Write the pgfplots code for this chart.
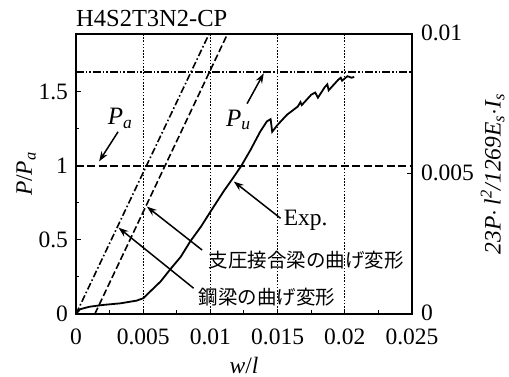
\documentclass[border=0pt]{standalone}
\usepackage{pgfplots}
\pgfplotsset{compat=1.18}
\usepackage{fontspec}
\setmainfont{Liberation Serif}
\newfontfamily\jp{Noto Sans CJK JP}
\usetikzlibrary{arrows.meta}
\newcommand\fs{\fontsize{23.5}{26}\selectfont}
\begin{document}
\fs
\begin{tikzpicture}
\pgfplotsset{
  base/.style={scale only axis, width=336pt, height=280pt,
    xmin=0, xmax=0.025,
    scaled x ticks=false, scaled y ticks=false,
    tick align=inside,
    major tick length=5pt, minor tick length=3.5pt,
    axis line style={line width=1.6pt},
    every tick/.style={line width=1pt, black},
    /pgf/number format/assume math mode=true,
    tick label style={font=\fs},
    label style={font=\fs},
  }
}
\begin{axis}[base, name=ax,
  ymin=0, ymax=1.89,
  xtick pos=bottom, ytick pos=left,
  xtick={0,0.005,0.01,0.015,0.02,0.025},
  xticklabels={0,0.005,0.01,0.015,0.02,0.025},
  minor x tick num=1,
  ytick={0,0.5,1,1.5},
  yticklabels={0,0.5,1,1.5},
  minor y tick num=1,
  xticklabel style={yshift=-7pt},
  xmajorgrids,
  major grid style={line width=1pt, dash pattern=on 1.6pt off 1.6pt, black},
  xlabel={\textit{w}/\textit{l}},
  ylabel={\textit{P}/\textit{P}\textsubscript{\textit{a}}},
  xlabel style={inner sep=0pt, yshift=-4pt},
  ylabel style={yshift=-13pt},
]
% reference lines
\addplot[black, line width=1.7pt, dash pattern=on 8pt off 3.5pt] coordinates {(0,1) (0.025,1)};
\addplot[black, line width=1.5pt, dash pattern=on 8pt off 2pt on 1.5pt off 2pt on 1.5pt off 2pt] coordinates {(0,1.635) (0.025,1.635)};
% steel beam bending
\addplot[black, line width=1.6pt, dash pattern=on 7pt off 2.5pt on 1.6pt off 2.5pt] coordinates {(0,0) (0.0099,1.89)};
% bearing joint beam bending
\addplot[black, line width=1.6pt, dash pattern=on 7pt off 3pt] coordinates {(0.0014,0) (0.01127,1.89)};
% experiment
\addplot[black, line width=1.8pt] coordinates {
(0,0) (0.0003,0.032) (0.001,0.049) (0.002,0.061) (0.0033,0.072) (0.0045,0.09)
(0.005,0.106) (0.0055,0.15) (0.0063,0.22) (0.007,0.30) (0.0078,0.387)
(0.0085,0.49) (0.0093,0.59) (0.010,0.69) (0.011,0.83) (0.0117,0.92)
(0.0123,1.0) (0.013,1.11) (0.0137,1.23) (0.0142,1.30) (0.01448,1.315)
(0.0146,1.23) (0.0150,1.277) (0.0157,1.345) (0.0165,1.40) (0.0167,1.43)
(0.0168,1.41) (0.0175,1.48) (0.0178,1.495) (0.0180,1.46) (0.0185,1.53)
(0.0187,1.55) (0.0188,1.51) (0.0195,1.58) (0.0197,1.595) (0.0198,1.575)
(0.0202,1.605) (0.0205,1.595) (0.0207,1.6)};
% annotations
\node[anchor=center, font=\fontsize{25}{28}\selectfont] at (axis cs:0.00328,1.32) {\textit{P}\textsubscript{\textit{a}}};
\draw[line width=1.5pt, -{Stealth[length=10pt,width=7pt]}] (axis cs:0.00313,1.23) -- (axis cs:0.00172,1.03);
\node[anchor=center, font=\fontsize{25}{28}\selectfont] at (axis cs:0.01209,1.31) {\textit{P}\textsubscript{\textit{u}}};
\draw[line width=1.5pt, -{Stealth[length=10pt,width=7pt]}] (axis cs:0.01273,1.42) -- (axis cs:0.01397,1.625);
\node[anchor=west, inner sep=0pt] at (axis cs:0.01545,0.63) {Exp.};
\draw[line width=1.5pt, -{Stealth[length=10pt,width=7pt]}] (axis cs:0.01522,0.646) -- (axis cs:0.01174,0.894);
\node[anchor=west, inner sep=0pt, font=\jp\fontsize{19.5}{22}\selectfont] at (axis cs:0.00985,0.365) {支圧接合梁の曲げ変形};
\draw[line width=1.5pt, -{Stealth[length=10pt,width=7pt]}] (axis cs:0.00938,0.432) -- (axis cs:0.00527,0.725);
\node[anchor=west, inner sep=0pt, font=\jp\fontsize{19.5}{22}\selectfont] at (axis cs:0.0091,0.115) {鋼梁の曲げ変形};
\draw[line width=1.5pt, -{Stealth[length=10pt,width=7pt]}] (axis cs:0.00875,0.174) -- (axis cs:0.00316,0.583);
\end{axis}
\begin{axis}[base,
  ymin=0, ymax=0.01,
  axis x line=none, axis y line*=right,
  ytick={0,0.005,0.01},
  yticklabels={0,0.005,0.01},
  yticklabel style={xshift=1pt, yshift=1pt},
  ylabel={\itshape 23P$\cdot$\,l\textsuperscript{2}/1269E\textsubscript{s}$\cdot$I\textsubscript{s}},
  ylabel style={yshift=9pt},
]
\addplot[draw=none] coordinates {(0,0) (0.025,0.01)};
\end{axis}
\node[anchor=base west, inner sep=0pt, font=\fontsize{24.5}{27}\selectfont] at ([yshift=7pt]ax.north west) {H4S2T3N2-CP};
\pgfresetboundingbox
\path (ax.south west) ++(-76pt,-63pt) rectangle ++(509pt,377pt);
\end{tikzpicture}
\end{document}
